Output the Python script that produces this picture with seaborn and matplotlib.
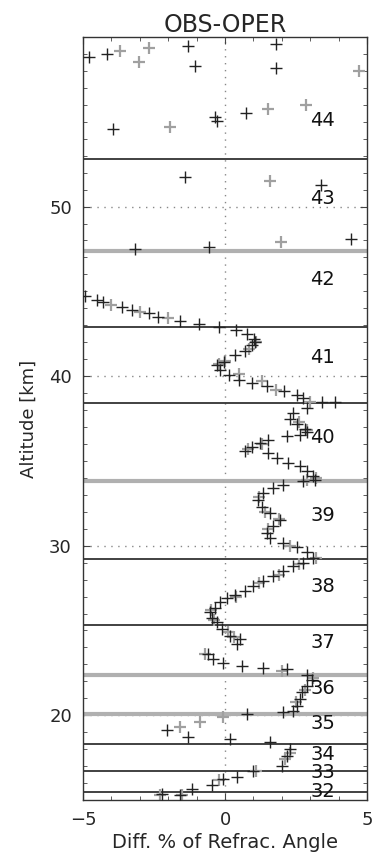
import matplotlib
matplotlib.use("Agg")
import matplotlib.pyplot as plt
from matplotlib.ticker import MultipleLocator
import seaborn as sns
import pandas as pd

# ---- data ----
black_x = [-4.8, -4.15, -1.30, -1.05, 1.81, 1.81, -3.94, -0.34, -0.28, 0.74,
           -1.41, 3.38, -3.17, -0.56, 4.44,
           -4.92, -4.51, -4.28, -3.63, -3.27, -2.69, -2.36, -1.60, -0.93, -0.20, 0.39, 0.77, 1.01, 1.05, 0.95,
           0.72, 0.36, -0.05, -0.28, -0.17, 0.13, 0.48, 0.95, 1.48, 2.07, 2.53, 2.76, 3.40, 3.87,
           2.87, 2.41, 2.29, 2.52, 2.82, 2.87, 2.64, 2.17, 1.52, 1.23, 0.94, 0.70,
           1.52, 1.82, 2.23, 2.64, 2.87, 3.11, 3.17, 2.76, 2.05, 1.70, 1.35, 1.17, 1.29, 1.58, 1.94, 1.70,
           1.47, 1.58, 2.05, 2.52, 2.87, 3.11, 2.76, 2.41, 2.05, 1.70, 1.35, 1.00, 0.70, 0.35, 0.06,
           -0.18, -0.35, -0.53, -0.47, -0.29, -0.12, 0.18, 0.53, 0.41,
           -0.59, -0.41, -0.06, 0.59, 1.35, 2.17, 2.87, 3.05, 2.87, 2.70, 2.64, 2.52, 2.41, 2.05, 0.76,
           -2.05, -1.29, 0.18, 1.58, 2.29, 2.17, 2.00, 1.00, 0.41, -0.06, -0.47, -1.17, -1.58, -2.23]
black_y = [58.84, 59.0, 59.5, 58.3, 59.6, 58.2, 54.6, 55.3, 55.04, 55.5,
           51.75, 51.25, 47.47, 47.63, 48.1,
           44.7, 44.5, 44.4, 44.1, 43.9, 43.7, 43.5, 43.27, 43.08, 42.92, 42.7, 42.5, 42.2, 42.0, 41.84,
           41.5, 41.25, 40.86, 40.66, 40.37, 40.08, 39.78, 39.59, 39.39, 39.1, 38.9, 38.7, 38.5, 38.5,
           38.1, 37.8, 37.5, 37.2, 36.9, 36.7, 36.5, 36.45, 36.25, 36.06, 35.8, 35.6,
           35.47, 35.18, 34.88, 34.7, 34.4, 34.1, 33.86, 33.8, 33.6, 33.4, 33.1, 32.7, 32.3, 31.9, 31.5, 31.15,
           30.76, 30.47, 30.18, 29.9, 29.6, 29.3, 29.0, 28.8, 28.5, 28.2, 27.9, 27.6, 27.3, 27.1, 26.94,
           26.65, 26.35, 26.06, 25.76, 25.47, 25.1, 24.7, 24.5, 24.2,
           23.6, 23.3, 23.1, 22.9, 22.8, 22.7, 22.4, 22.1, 21.7, 21.35, 20.96, 20.57, 20.27, 20.18, 20.08,
           19.1, 18.7, 18.6, 18.4, 18.0, 17.6, 17.0, 16.74, 16.35, 16.25, 15.86, 15.67, 15.27, 15.38]

gray_x = [-3.69, -3.02, -2.69, 4.71, -1.93, 1.50, 2.85, 1.58, 1.97,
          -4.0, -3.0, -2.0, 1.1, 0.85, 0.0, -0.2, 0.5, 1.3, 1.8, 3.0, 2.6, 2.9, 1.3, 0.8, 3.2, 2.9,
          1.2, 1.4, 1.9, 1.5, 2.3, 3.2, 2.6, 1.9, 1.2, 0.4, -0.5, -0.4, 0.3, -0.7, 0.1,
          2.0, 3.1, 2.8, 2.5, -0.06, -0.88, -1.58, 2.3, 2.1, 1.1,
          -0.2, -1.5, -2.3]
gray_y = [59.16, 58.5, 59.35, 58.0, 54.7, 55.76, 56.0, 51.5, 47.9,
          44.2, 43.8, 43.4, 42.0, 41.6, 40.9, 40.7, 40.1, 39.7, 39.2, 38.45, 37.3, 36.8, 36.0, 35.7, 34.0, 33.9,
          32.9, 32.0, 31.6, 31.0, 30.0, 29.3, 28.9, 28.3, 27.8, 27.0, 26.2, 25.6, 24.6, 23.6, 24.9,
          22.6, 22.2, 21.5, 20.8, 19.9, 19.6, 19.3, 17.8, 17.4, 16.7,
          16.2, 15.3, 15.3]

black_lines = [52.8, 42.9, 38.4, 29.2, 25.35, 18.3, 16.7, 15.5]
gray_lines = [47.4, 33.8, 22.35, 20.1]

level_labels = ["44", "43", "42", "41", "40", "39", "38", "37", "36", "35", "34", "33", "32"]
level_label_y = [55.1, 50.5, 45.7, 41.1, 36.4, 31.8, 27.6, 24.3, 21.6, 19.5, 17.7, 16.6, 15.5]

xticks = [-5, 0, 5]
yticks = [20, 30, 40, 50]

# ---- plot ----
sns.set_style("white")
plt.rcParams['font.family'] = ['DejaVu Sans']

fig = plt.figure(figsize=(3.73, 8.57), dpi=100)
ax = fig.add_axes([0.2225, 0.0665, 0.7615, 0.8903])

for y in gray_lines:
    ax.axhline(y, color="#b0b0b0", lw=3.0, zorder=1)
for y in black_lines:
    ax.axhline(y, color="#333333", lw=1.3, zorder=1)

for y in yticks:
    ax.axhline(y, color="#888888", lw=1.0, ls=(0, (1, 4)), zorder=0.5)
ax.axvline(0, color="#888888", lw=1.0, ls=(0, (1, 4)), zorder=0.5)

gdf = pd.DataFrame({"x": gray_x, "y": gray_y})
bdf = pd.DataFrame({"x": black_x, "y": black_y})
sns.scatterplot(data=gdf, x="x", y="y", marker="+", s=75, color="#a0a0a0",
                linewidth=1.6, ax=ax, zorder=2)
sns.scatterplot(data=bdf, x="x", y="y", marker="+", s=75, color="#222222",
                linewidth=1.0, ax=ax, zorder=3)

for lab, y in zip(level_labels, level_label_y):
    ax.text(3.0, y, lab, fontsize=14, color="#111111", va="center", ha="left", zorder=4)

ax.set_xlim(-5, 5)
ax.set_ylim(15, 60)
ax.set_xticks(xticks)
ax.set_yticks(yticks)
ax.xaxis.set_minor_locator(MultipleLocator(1))
ax.yaxis.set_minor_locator(MultipleLocator(1))
ax.tick_params(which="both", direction="in", top=True, right=True, bottom=True, left=True,
               color="#444444", labelsize=13, pad=8)
ax.tick_params(which="major", length=5, width=0.8)
ax.tick_params(which="minor", length=3, width=0.6)
for s in ax.spines.values():
    s.set_color("#333333")
    s.set_linewidth(1.0)

ax.set_xlabel("Diff. % of Refrac. Angle", fontsize=14, labelpad=3)
ax.set_ylabel("Altitude [km]", fontsize=13, labelpad=8)
ax.set_title("OBS-OPER", fontsize=17, pad=3)

fig.savefig("out.png", dpi=100)
